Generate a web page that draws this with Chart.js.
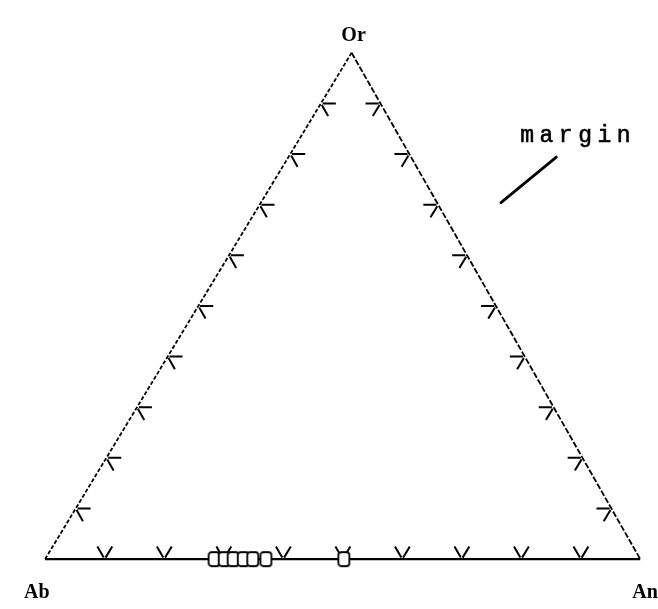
<!DOCTYPE html>
<html>
<head>
<meta charset="utf-8">
<script src="https://cdn.jsdelivr.net/npm/chart.js@4/dist/chart.umd.min.js"></script>
<style>
  html, body { margin: 0; padding: 0; background: #fff; }
  canvas { display: block; }
</style>
</head>
<body>
<canvas id="ternary" width="658" height="609"></canvas>
<script>
// corner end members
const cornerLabels = ['Ab', 'An', 'Or'];
// guide marks every 10 % along each side
const tickLevels = [10, 20, 30, 40, 50, 60, 70, 80, 90];
// feldspar analyses, mol % An and Or (Ab is the rest)
const sampleAn = [28.4, 30.1, 31.6, 33.3, 34.9, 37.1, 50.2];
const sampleOr = [0, 0, 0, 0, 0, 0, 0];
const noteText = 'margin';

const APEX_SHIFT = 0.515; // Or apex sits a little right of the base midpoint
const STUB = 2.2;
const GAP = 0.3;

// ternary (An, Or) -> plot space; Ab corner at 0,0, An at 100,0
function tern(an, or) {
  return { x: an + or * APEX_SHIFT, y: or };
}

const BREAK = { x: null, y: null };
function segments(pairs) {
  const out = [];
  pairs.forEach(([a, b]) => out.push(a, b, BREAK));
  return out;
}

// short grid stubs inside each side
const stubPairs = [];
tickLevels.forEach(k => {
  // Ab-Or side
  stubPairs.push([tern(GAP, k), tern(GAP + STUB, k)]);
  stubPairs.push([tern(GAP, k - GAP), tern(GAP + STUB, k - GAP - STUB)]);
  // Or-An side
  stubPairs.push([tern(100 - k - GAP, k), tern(100 - k - GAP - STUB, k)]);
  stubPairs.push([tern(100 - k, k - GAP), tern(100 - k, k - GAP - STUB)]);
  // Ab-An base
  stubPairs.push([tern(k, GAP), tern(k, GAP + STUB)]);
  stubPairs.push([tern(k - GAP, GAP), tern(k - GAP - STUB, GAP + STUB)]);
});

const samples = sampleAn.map((an, i) => tern(an, sampleOr[i]));

// open box marker with soft corners
const box = document.createElement('canvas');
box.width = 15;
box.height = 18;
(function () {
  const c = box.getContext('2d');
  c.fillStyle = '#fff';
  c.strokeStyle = '#000';
  c.lineWidth = 1.8;
  c.beginPath();
  c.roundRect(2, 2, 11, 14, 3);
  c.fill();
  c.stroke();
})();

const textPlugin = {
  id: 'ternaryText',
  afterDatasetsDraw(chart) {
    const { ctx } = chart;
    const xs = chart.scales.x, ys = chart.scales.y;
    const px = p => ({ x: xs.getPixelForValue(p.x), y: ys.getPixelForValue(p.y) });
    const ab = px(tern(0, 0)), an = px(tern(100, 0)), or = px(tern(0, 100));

    ctx.save();
    ctx.fillStyle = '#000';
    ctx.font = 'bold 20px "Liberation Serif"';
    ctx.textBaseline = 'alphabetic';
    ctx.textAlign = 'left';
    ctx.fillText(cornerLabels[0], ab.x - 21, ab.y + 39);
    ctx.fillText(cornerLabels[1], an.x - 8, an.y + 39);
    ctx.textAlign = 'center';
    ctx.fillText(cornerLabels[2], or.x + 2, or.y - 12);

    // margin note with its pointer
    const note = px({ x: 81.0, y: 82.3 });
    ctx.font = '23px "Liberation Mono"';
    ctx.strokeStyle = '#000';
    ctx.lineWidth = 0.6;
    const pitch = 19.3;
    for (let i = 0; i < noteText.length; i++) {
      ctx.fillText(noteText[i], note.x + i * pitch, note.y);
      ctx.strokeText(noteText[i], note.x + i * pitch, note.y);
    }
    const p0 = px({ x: 76.6, y: 70.4 }), p1 = px({ x: 85.9, y: 79.4 });
    ctx.lineWidth = 2.8;
    ctx.lineCap = 'round';
    ctx.beginPath();
    ctx.moveTo(p0.x, p0.y);
    ctx.lineTo(p1.x, p1.y);
    ctx.stroke();
    ctx.restore();
  }
};

new Chart(document.getElementById('ternary').getContext('2d'), {
  type: 'scatter',
  data: {
    datasets: [
      {
        label: 'samples',
        data: samples,
        pointStyle: box,
        pointRadius: 7,
        showLine: false
      },
      {
        label: 'Ab-An',
        data: [tern(0, 0), tern(100, 0)],
        showLine: true,
        borderColor: '#000',
        borderWidth: 2.4,
        pointRadius: 0
      },
      {
        label: 'Ab-Or',
        data: [tern(0, 0), tern(0, 100)],
        showLine: true,
        borderColor: '#000',
        borderWidth: 1.8,
        borderDash: [4, 2],
        pointRadius: 0
      },
      {
        label: 'Or-An',
        data: [tern(0, 100), tern(100, 0)],
        showLine: true,
        borderColor: '#000',
        borderWidth: 1.8,
        borderDash: [6, 2],
        pointRadius: 0
      },
      {
        label: 'ticks',
        data: segments(stubPairs),
        showLine: true,
        spanGaps: false,
        borderColor: '#000',
        borderWidth: 2,
        pointRadius: 0
      }
    ]
  },
  options: {
    responsive: false,
    animation: false,
    devicePixelRatio: 1,
    layout: { padding: 0 },
    plugins: {
      legend: { display: false },
      tooltip: { enabled: false }
    },
    scales: {
      x: { type: 'linear', display: false, min: -38 / 6.1, max: 620 / 6.1 },
      y: { type: 'linear', display: false, min: -43 / 5.2, max: 566 / 5.2 }
    }
  },
  plugins: [textPlugin]
});
</script>
</body>
</html>
